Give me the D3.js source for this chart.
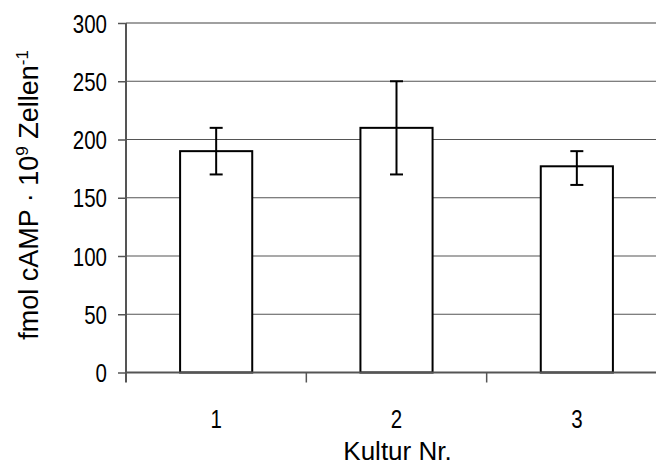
<!DOCTYPE html>
<html>
<head>
<meta charset="utf-8">
<script src="https://cdn.jsdelivr.net/npm/d3@7"></script>
<style>
  html, body { margin: 0; padding: 0; background: #fff; }
  svg { display: block; }
  .tick-label { font-family: "Liberation Sans", Arial, sans-serif; }
  .title { font-family: "Liberation Sans", Arial, sans-serif; }
</style>
</head>
<body>
<svg id="chart" width="656" height="467"></svg>
<script>
const categories = ["1", "2", "3"];
const values = [190, 210, 177];
const errLow = [170, 170, 161];
const errHigh = [210, 250, 190];
const yTicks = [0, 50, 100, 150, 200, 250, 300];
const xTitle = "Kultur Nr.";

const svg = d3.select("#chart");
const x0 = 126, x1 = 667, yTop = 23, yBot = 372.5;

const x = d3.scaleBand().domain(categories).range([x0, x1]).padding(0);
const y = d3.scaleLinear().domain([0, 300]).range([yBot, yTop]);
const barW = x.bandwidth() * 0.4;

// gridlines
svg.append("g").selectAll("line")
  .data(yTicks.filter(d => d > 0))
  .join("line")
  .attr("x1", x0).attr("x2", 656)
  .attr("y1", d => y(d)).attr("y2", d => y(d))
  .attr("stroke", d => d === 300 ? "#a0a0a0" : "#555")
  .attr("stroke-width", d => d === 300 ? 2 : 1.2);

// y axis
const yAxis = d3.axisLeft(y).tickValues(yTicks).tickSize(8).tickFormat("");
const gy = svg.append("g").attr("transform", `translate(${x0},0)`).call(yAxis);
gy.select(".domain").remove();
gy.selectAll(".tick line").attr("stroke", "#555").attr("stroke-width", 1.5);
gy.selectAll(".tick").append("text")
  .attr("class", "tick-label")
  .attr("transform", "translate(-19,0) scale(0.82,1)")
  .attr("text-anchor", "end").attr("dy", "0.36em")
  .attr("font-size", 25).attr("fill", "#000")
  .text(d => d);
svg.append("line").attr("x1", x0).attr("x2", x0).attr("y1", y(300)).attr("y2", yBot + 10)
  .attr("stroke", "#555").attr("stroke-width", 2);

// bars
svg.append("g").selectAll("rect")
  .data(values)
  .join("rect")
  .attr("x", (d, i) => x(categories[i]) + (x.bandwidth() - barW) / 2)
  .attr("y", d => y(d))
  .attr("width", barW)
  .attr("height", d => yBot - y(d))
  .attr("fill", "#fff").attr("stroke", "#000").attr("stroke-width", 2);

// x axis
const xBoundaries = [...categories.map(c => x(c)), x1];
svg.append("line").attr("x1", x0).attr("x2", 656).attr("y1", yBot).attr("y2", yBot)
  .attr("stroke", "#555").attr("stroke-width", 2);
svg.append("g").selectAll("line").data(xBoundaries.slice(1, 3)).join("line")
  .attr("x1", d => d).attr("x2", d => d).attr("y1", yBot).attr("y2", yBot + 10)
  .attr("stroke", "#555").attr("stroke-width", 1.5);
svg.append("g").selectAll("text").data(categories).join("text")
  .attr("class", "tick-label")
  .attr("transform", d => `translate(${x(d) + x.bandwidth() / 2},428) scale(0.82,1)`)
  .attr("text-anchor", "middle").attr("font-size", 25).text(d => d);

// error bars
const eg = svg.append("g").attr("stroke", "#000").attr("stroke-width", 2);
values.forEach((v, i) => {
  const cx = x(categories[i]) + x.bandwidth() / 2;
  eg.append("line").attr("x1", cx).attr("x2", cx).attr("y1", y(errHigh[i])).attr("y2", y(errLow[i]));
  [errHigh[i], errLow[i]].forEach(e => {
    eg.append("line").attr("x1", cx - 6.5).attr("x2", cx + 6.5).attr("y1", y(e)).attr("y2", y(e));
  });
});

// titles
svg.append("text").attr("class", "title")
  .attr("x", x(categories[1]) + x.bandwidth() / 2 + 1).attr("y", 460)
  .attr("text-anchor", "middle").attr("font-size", 26).text(xTitle);

const yt = svg.append("text").attr("class", "title")
  .attr("transform", "translate(38,195) rotate(-90)")
  .attr("text-anchor", "middle").attr("font-size", 27);
yt.append("tspan").text("fmol cAMP · 10");
yt.append("tspan").attr("font-size", 17).attr("dy", -10).text("9");
yt.append("tspan").attr("dy", 10).text(" Zellen");
yt.append("tspan").attr("font-size", 17).attr("dy", -10).text("-1");
</script>
</body>
</html>
